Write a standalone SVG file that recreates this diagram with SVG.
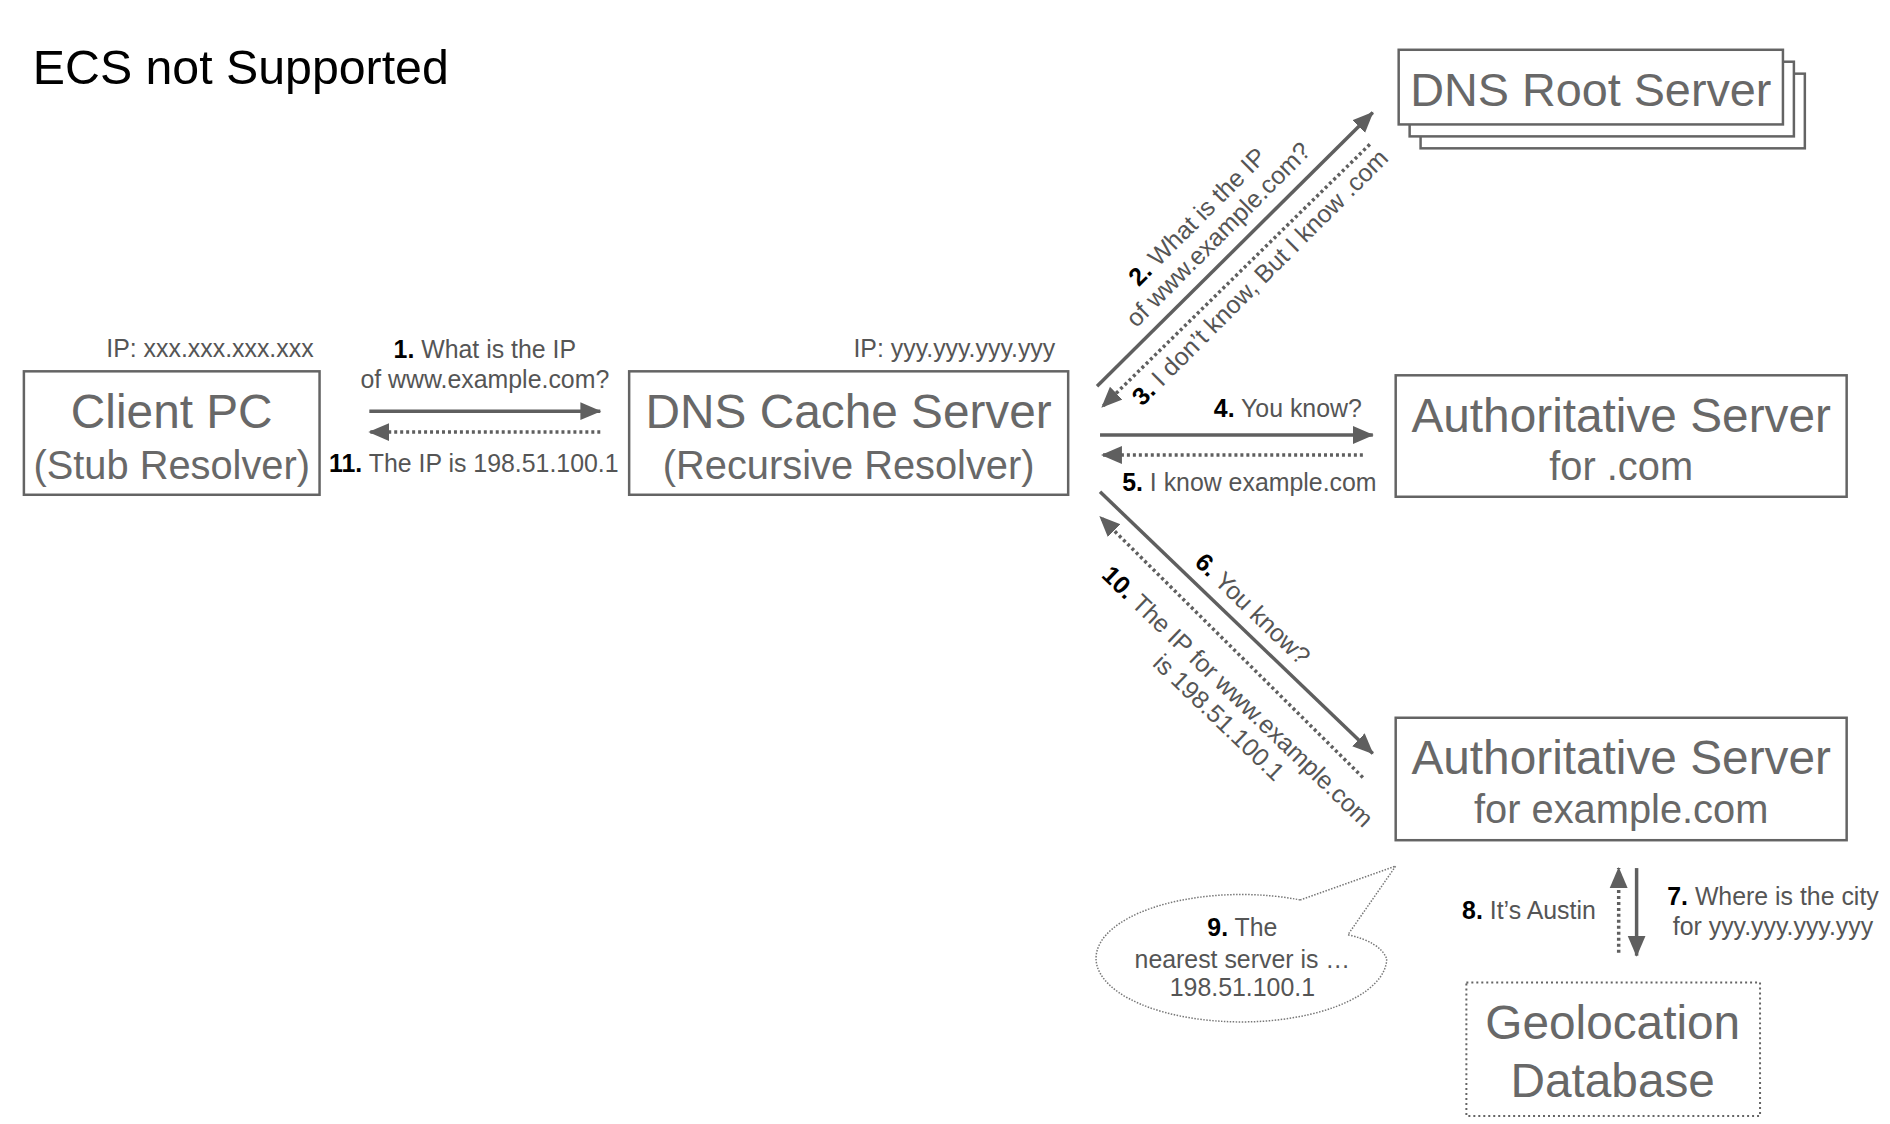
<svg xmlns="http://www.w3.org/2000/svg" width="1890" height="1124" viewBox="0 0 1890 1124">
<style>
.box{fill:#fff;stroke:#646464;stroke-width:2.5}
.dbox{fill:#fff;stroke:#646464;stroke-width:2;stroke-dasharray:2 3}
.nt{font-family:"Liberation Sans",Arial,sans-serif;fill:#686868;text-anchor:middle}
.big{font-size:48px}
.sub{font-size:40px}
.lbl{font-family:"Liberation Sans",Arial,sans-serif;font-size:25px;fill:#555}
.n{font-weight:bold;fill:#000}
.solid{fill:none;stroke:#5f5f5f;stroke-width:3.5}
.dot{fill:none;stroke:#5f5f5f;stroke-width:3.5;stroke-dasharray:3 3}
</style>
<defs>
<marker id="ah" markerUnits="userSpaceOnUse" markerWidth="22" markerHeight="20" viewBox="0 0 22 20" refX="20" refY="10" orient="auto">
<path d="M0,1 L21,10 L0,19 z" fill="#5f5f5f"/>
</marker>
</defs>
<rect width="1890" height="1124" fill="#fff"/>
<g transform="scale(0.9955)">
<text x="33" y="84" font-family="'Liberation Sans',Arial,sans-serif" font-size="48.5" fill="#000">ECS not Supported</text>

<g id="client">
<rect class="box" x="24" y="373" width="297" height="124"/>
<text class="nt big" x="172.5" y="430">Client PC</text>
<text class="nt sub" x="172.5" y="481">(Stub Resolver)</text>
<text class="lbl" x="315" y="359" text-anchor="end">IP: xxx.xxx.xxx.xxx</text>
</g>
<g id="cache">
<rect class="box" x="632" y="373" width="441" height="124"/>
<text class="nt big" x="852.5" y="430">DNS Cache Server</text>
<text class="nt sub" x="852.5" y="481">(Recursive Resolver)</text>
<text class="lbl" x="1060" y="359" text-anchor="end">IP: yyy.yyy.yyy.yyy</text>
</g>
<g id="root">
<rect class="box" x="1427" y="74" width="386" height="75"/>
<rect class="box" x="1416" y="62" width="386" height="75"/>
<rect class="box" x="1405" y="50" width="386" height="75"/>
<text class="nt" font-size="47" x="1598" y="106">DNS Root Server</text>
</g>
<g id="authcom">
<rect class="box" x="1402" y="377" width="453" height="122"/>
<text class="nt big" x="1628.5" y="434">Authoritative Server</text>
<text class="nt sub" x="1628.5" y="482">for .com</text>
</g>
<g id="authex">
<rect class="box" x="1402" y="721" width="453" height="123"/>
<text class="nt big" x="1628.5" y="778">Authoritative Server</text>
<text class="nt sub" x="1628.5" y="827">for example.com</text>
</g>
<g id="geo">
<rect class="dbox" x="1473" y="987" width="295" height="134"/>
<text class="nt big" x="1620" y="1044">Geolocation</text>
<text class="nt big" x="1620" y="1102">Database</text>
</g>
<g id="bubble">
<path d="M1306,904 L1402,870 L1354,939 Q1386,946 1393,963 A146,64 0 1 1 1306,904 Z" fill="#fff" stroke="#777" stroke-width="1.5" stroke-dasharray="1.5 1.5"/>
<text class="lbl" x="1248" y="940" text-anchor="middle"><tspan class="n">9.</tspan> The</text>
<text class="lbl" x="1248" y="972" text-anchor="middle">nearest server is …</text>
<text class="lbl" x="1248" y="1001" text-anchor="middle">198.51.100.1</text>
</g>

<g id="connectors">
<line class="solid" x1="371" y1="413" x2="603" y2="413" marker-end="url(#ah)"/>
<line class="dot" x1="603" y1="434" x2="371" y2="434" marker-end="url(#ah)"/>
<line class="solid" x1="1102" y1="388" x2="1379" y2="113" marker-end="url(#ah)"/>
<line class="dot" x1="1376" y1="145" x2="1107" y2="409" marker-end="url(#ah)"/>
<line class="solid" x1="1105" y1="437" x2="1379" y2="437" marker-end="url(#ah)"/>
<line class="dot" x1="1369" y1="457" x2="1107" y2="457" marker-end="url(#ah)"/>
<line class="solid" x1="1105" y1="494" x2="1379" y2="757" marker-end="url(#ah)"/>
<line class="dot" x1="1369" y1="781" x2="1105" y2="519" marker-end="url(#ah)"/>
<line class="solid" x1="1644" y1="872" x2="1644" y2="960" marker-end="url(#ah)"/>
<line class="dot" x1="1626" y1="957" x2="1626" y2="872" marker-end="url(#ah)"/>

<text class="lbl" x="487" y="360" text-anchor="middle"><tspan class="n">1.</tspan> What is the IP</text>
<text class="lbl" x="487" y="390" text-anchor="middle">of www.example.com?</text>
<text class="lbl" x="476" y="474" text-anchor="middle" font-size="23.5"><tspan class="n">11.</tspan> The IP is 198.51.100.1</text>
<g transform="translate(1203,218) rotate(-45)"><text class="lbl" x="0" y="8" text-anchor="middle"><tspan class="n">2.</tspan> What is the IP</text></g>
<g transform="translate(1224,236) rotate(-45)"><text class="lbl" x="0" y="8" text-anchor="middle">of www.example.com?</text></g>
<g transform="translate(1266,279) rotate(-45)"><text class="lbl" x="0" y="8" text-anchor="middle"><tspan class="n">3.</tspan> I don’t know, But I know .com</text></g>
<text class="lbl" x="1368" y="419" text-anchor="end"><tspan class="n">4.</tspan> You know?</text>
<text class="lbl" x="1255" y="493" text-anchor="middle"><tspan class="n">5.</tspan> I know example.com</text>
<g transform="translate(1258,612) rotate(43.8)"><text class="lbl" x="0" y="8" text-anchor="middle"><tspan class="n">6.</tspan> You know?</text></g>
<g transform="translate(1243,700) rotate(43.8)"><text class="lbl" x="0" y="8" text-anchor="middle"><tspan class="n">10.</tspan> The IP for www.example.com</text></g>
<g transform="translate(1224,721) rotate(43.8)"><text class="lbl" x="0" y="8" text-anchor="middle">is 198.51.100.1</text></g>
<text class="lbl" x="1603" y="923" text-anchor="end"><tspan class="n">8.</tspan> It’s Austin</text>
<text class="lbl" x="1781" y="909" text-anchor="middle"><tspan class="n">7.</tspan> Where is the city</text>
<text class="lbl" x="1781" y="939" text-anchor="middle">for yyy.yyy.yyy.yyy</text>
</g>
</g>
</svg>
